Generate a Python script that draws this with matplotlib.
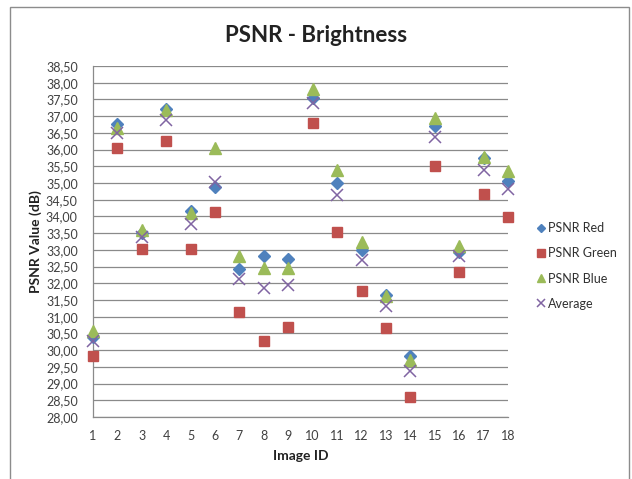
import matplotlib
matplotlib.use("Agg")
import matplotlib.pyplot as plt
import numpy as np
from matplotlib.patches import Rectangle

image_ids = list(range(1, 19))
psnr_red = [30.40, 36.76, 33.50, 37.20, 34.17, 34.89, 32.44, 32.83, 32.73, 37.53,
            35.00, 33.00, 31.65, 29.83, 36.70, 32.95, 35.75, 35.06]
psnr_green = [29.83, 36.04, 33.03, 36.25, 33.04, 34.13, 31.13, 30.27, 30.68, 36.79,
              33.52, 31.77, 30.67, 28.59, 35.52, 32.35, 34.66, 33.98]
psnr_blue = [30.58, 36.66, 33.60, 37.17, 34.11, 36.04, 32.82, 32.45, 32.47, 37.80,
             35.40, 33.24, 31.62, 29.72, 36.93, 33.13, 35.79, 35.37]
average = [30.27, 36.49, 33.39, 36.88, 33.78, 35.03, 32.12, 31.86, 31.95, 37.38,
           34.64, 32.69, 31.32, 29.38, 36.39, 32.81, 35.40, 34.81]

series_names = ["PSNR Red", "PSNR Green", "PSNR Blue", "Average"]
y_ticks = np.arange(28.0, 38.51, 0.5)

FONT = ["Lato", "DejaVu Sans"]
plt.rcParams["font.family"] = FONT

fig = plt.figure(figsize=(6.32, 4.79), dpi=100)
ax = fig.add_axes([93/632, 1-417/479, (508-93)/632, (417-66)/479])

# chart area border
fig.patches.append(Rectangle((10/632, -0.05), (629-10)/632, (479-7)/479+0.05,
                             transform=fig.transFigure, fill=False,
                             edgecolor="#8c8c8c", linewidth=1.0))

common = dict(linestyle="none", zorder=3, clip_on=False)
ax.plot(image_ids, psnr_red, marker="D", markersize=6.3,
        color="#4F81BD", label=series_names[0], **common)
ax.plot(image_ids, psnr_green, marker="s", markersize=7.8,
        color="#C0504D", label=series_names[1], **common)
ax.plot(image_ids, psnr_blue, marker="^", markersize=8.6,
        color="#9BBB59", label=series_names[2], **common)
ax.plot(image_ids, average, marker="x", markersize=8,
        markeredgewidth=1.1, color="#8064A2", label=series_names[3], **common)

ax.set_xlim(1, 18)
ax.set_ylim(28.0, 38.5)
ax.set_xticks(image_ids)
ax.set_xticklabels([str(i) for i in image_ids])
ax.set_yticks(y_ticks)
ax.set_yticklabels([f"{v:.2f}".replace(".", ",") for v in y_ticks])
ax.tick_params(axis="both", length=0, labelsize=9, labelcolor="#404040")
ax.tick_params(axis="y", pad=11)
ax.tick_params(axis="x", pad=9)

ax.grid(axis="y", color="#8a8a8a", linewidth=0.9)
ax.set_axisbelow(True)
for s in ["top", "right"]:
    ax.spines[s].set_visible(False)
for s in ["left", "bottom"]:
    ax.spines[s].set_color("#8a8a8a")
    ax.spines[s].set_linewidth(0.9)

ax.set_xlabel("Image ID", fontsize=10, fontweight="bold", color="#222222", labelpad=6)
ax.set_ylabel("PSNR Value (dB)", fontsize=10, fontweight="bold", color="#222222", labelpad=3)
fig.text(0.5, 1-35/479, "PSNR - Brightness", ha="center", va="center",
         fontsize=16, fontweight="bold", color="#222222")

leg = ax.legend(loc="center left", bbox_to_anchor=(537/632, 1-266/479),
                bbox_transform=fig.transFigure, frameon=False, fontsize=9,
                handlelength=0.6, handletextpad=0.3, labelspacing=1.05,
                borderpad=0, borderaxespad=0, markerscale=0.65)
for t in leg.get_texts():
    t.set_color("#303030")

fig.savefig("out.png", dpi=100)
